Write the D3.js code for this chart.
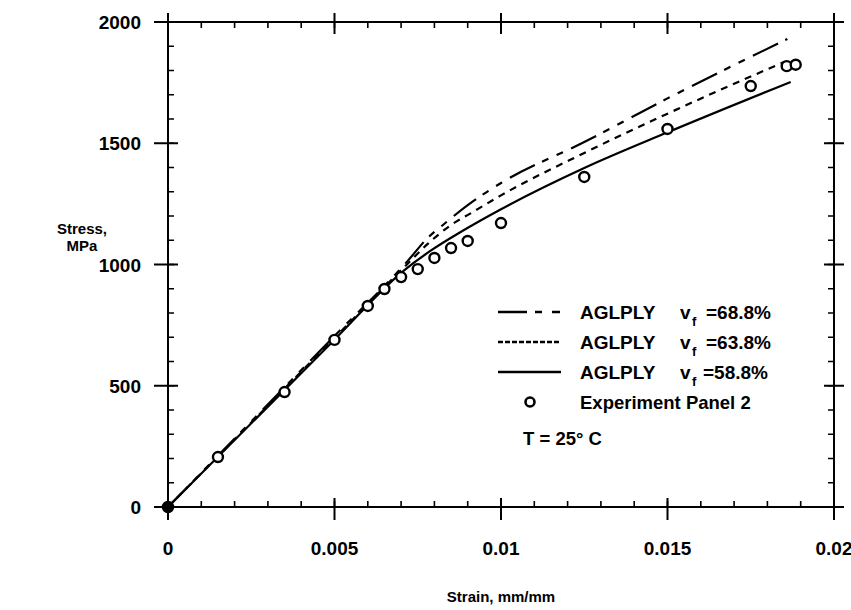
<!DOCTYPE html>
<html>
<head>
<meta charset="utf-8">
<script src="https://cdn.jsdelivr.net/npm/d3@7"></script>
<style>
  html, body { margin: 0; padding: 0; background: #fff; overflow: hidden; }
  svg { display: block; }
  svg text { font-family: 'Liberation Sans', Arial, sans-serif; font-weight: bold; fill: #000; }
</style>
</head>
<body>
<svg width="851" height="610"></svg>
<script>
// values
const xTicks = [0, 0.005, 0.01, 0.015, 0.02];
const xTickLabels = ['0', '0.005', '0.01', '0.015', '0.02'];
const yTicks = [0, 500, 1000, 1500, 2000];

const vf688Strain = [0, 0.005, 0.0072, 0.0078, 0.0083, 0.009, 0.01, 0.0125, 0.015, 0.0186];
const vf688Stress = [0, 705, 1015, 1110, 1168, 1245, 1336, 1505, 1685, 1930];

const vf638Strain = [0, 0.005, 0.0071, 0.0078, 0.0085, 0.0091, 0.01, 0.0125, 0.015, 0.0185];
const vf638Stress = [0, 697, 990, 1085, 1163, 1212, 1285, 1460, 1622, 1835];

const vf588Strain = [0, 0.005, 0.0071, 0.0079, 0.0088, 0.01, 0.0125, 0.015, 0.0187];
const vf588Stress = [0, 690, 977, 1058, 1135, 1228, 1398, 1545, 1753];

const expStrain = [0, 0.0015, 0.0035, 0.005, 0.006, 0.0065, 0.007, 0.0075, 0.008, 0.0085, 0.009, 0.01, 0.0125, 0.015, 0.0175, 0.01858, 0.01885];
const expStress = [0, 206, 474, 689, 829, 899, 948, 981, 1027, 1068, 1097, 1171, 1361, 1559, 1736, 1818, 1824];

const seriesNames = ['=68.8%', '=63.8%', '=58.8%'];

const svg = d3.select('svg');
const margin = { top: 22, right: 17, bottom: 103, left: 168 };
const width = +svg.attr('width');
const height = +svg.attr('height');
const innerWidth = width - margin.left - margin.right;
const innerHeight = height - margin.top - margin.bottom;

const xScale = d3.scaleLinear().domain([0, 0.02]).range([0, innerWidth]);
const yScale = d3.scaleLinear().domain([0, 2000]).range([innerHeight, 0]);

const g = svg.append('g')
    .attr('transform', `translate(${margin.left},${margin.top})`);

// minor ticks point inward on all four sides
const xMinor = d3.range(0, 0.02001, 0.001);
const yMinor = d3.range(0, 2001, 100);

const axisG = g.append('g').attr('stroke', '#000').attr('fill', 'none');
axisG.append('rect')
    .attr('width', innerWidth).attr('height', innerHeight)
    .attr('stroke-width', 2);

axisG.selectAll('.xminor').data(xMinor).enter().append('path')
    .attr('stroke-width', 1.6)
    .attr('d', d => `M${xScale(d)},${innerHeight}v-6M${xScale(d)},0v6`);
axisG.selectAll('.yminor').data(yMinor).enter().append('path')
    .attr('stroke-width', 1.6)
    .attr('d', d => `M0,${yScale(d)}h6M${innerWidth},${yScale(d)}h-6`);

// major ticks cross the frame
axisG.selectAll('.xmajor').data(xTicks).enter().append('path')
    .attr('stroke-width', 2)
    .attr('d', d => `M${xScale(d)},${innerHeight - 9}v22M${xScale(d)},-9v21`);
axisG.selectAll('.ymajor').data(yTicks).enter().append('path')
    .attr('stroke-width', 2)
    .attr('d', d => `M-14,${yScale(d)}h24M${innerWidth - 10},${yScale(d)}h20`);

// tick labels
g.selectAll('.xlab').data(xTicks).enter().append('text')
    .attr('x', d => xScale(d))
    .attr('y', innerHeight + 48)
    .attr('text-anchor', 'middle')
    .style('font-size', '19px')
    .text((d, i) => xTickLabels[i]);

g.selectAll('.ylab').data(yTicks).enter().append('text')
    .attr('x', -27)
    .attr('y', d => yScale(d) + 7)
    .attr('text-anchor', 'end')
    .style('font-size', '19px')
    .text(d => d);

// axis titles
g.append('text')
    .attr('x', innerWidth / 2)
    .attr('y', innerHeight + 95)
    .attr('text-anchor', 'middle')
    .style('font-size', '15px')
    .text('Strain, mm/mm');

const ylab = g.append('text')
    .attr('text-anchor', 'middle')
    .style('font-size', '15px');
ylab.append('tspan').attr('x', -86).attr('y', 212).text('Stress,');
ylab.append('tspan').attr('x', -86).attr('y', 229).text('MPa');

// curves
const line = d3.line()
    .x(d => xScale(d[0]))
    .y(d => yScale(d[1]))
    .curve(d3.curveMonotoneX);

const curves = [
    { xs: vf688Strain, ys: vf688Stress, dash: '28,8,7,9,7,9', legendDash: '29,8,7,10,8,20' },
    { xs: vf638Strain, ys: vf638Stress, dash: '7,6', legendDash: '5,2' },
    { xs: vf588Strain, ys: vf588Stress, dash: null, legendDash: null }
];

g.selectAll('.curve').data(curves).enter().append('path')
    .attr('fill', 'none')
    .attr('stroke', '#000')
    .attr('stroke-width', 2.2)
    .attr('stroke-dasharray', d => d.dash)
    .attr('d', d => line(d.xs.map((x, i) => [x, d.ys[i]])));

// experiment points
g.selectAll('.pt').data(expStrain).enter().append('circle')
    .attr('cx', d => xScale(d))
    .attr('cy', (d, i) => yScale(expStress[i]))
    .attr('r', 5)
    .attr('fill', (d, i) => i === 0 ? '#000' : '#fff')
    .attr('stroke', '#000')
    .attr('stroke-width', 2.4);

// legend
const legend = svg.append('g');
const rowsY = [312, 342, 372];
curves.forEach((c, i) => {
    legend.append('line')
        .attr('x1', 498).attr('x2', 561)
        .attr('y1', rowsY[i]).attr('y2', rowsY[i])
        .attr('stroke', '#000')
        .attr('stroke-width', 2.4)
        .attr('stroke-dasharray', c.legendDash);
    legend.append('text')
        .attr('x', 580).attr('y', rowsY[i] + 7)
        .style('font-size', '19px')
        .text('AGLPLY');
    legend.append('text')
        .attr('x', 680).attr('y', rowsY[i] + 7)
        .style('font-size', '19px')
        .text('v');
    legend.append('text')
        .attr('x', 692).attr('y', rowsY[i] + 14)
        .style('font-size', '13px')
        .text('f');
    legend.append('text')
        .attr('x', i === 2 ? 703 : 706).attr('y', rowsY[i] + 7)
        .style('font-size', '19px')
        .text(seriesNames[i]);
});
legend.append('circle')
    .attr('cx', 530).attr('cy', 402).attr('r', 4.5)
    .attr('fill', '#fff').attr('stroke', '#000').attr('stroke-width', 2.6);
legend.append('text')
    .attr('x', 580).attr('y', 409)
    .style('font-size', '18.5px')
    .text('Experiment Panel 2');
legend.append('text')
    .attr('x', 523).attr('y', 445)
    .style('font-size', '18.5px')
    .text('T = 25° C');
</script>
</body>
</html>
